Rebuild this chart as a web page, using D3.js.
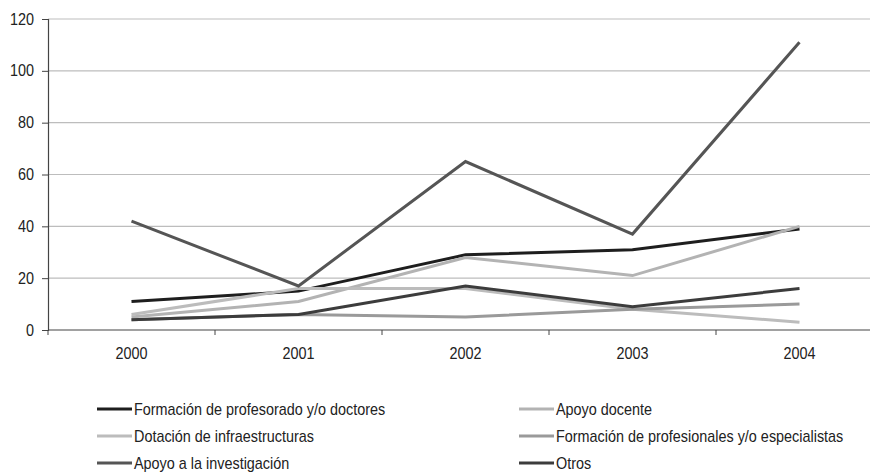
<!DOCTYPE html>
<html><head><meta charset="utf-8">
<script src="https://cdn.jsdelivr.net/npm/d3@7"></script>
<style>body{margin:0;background:#fff}svg{display:block}text{font-family:"Liberation Sans Narrow","Arial Narrow","Liberation Sans",Arial,sans-serif;fill:#222}</style>
</head><body><svg id="c" width="870" height="472"></svg>
<script>
const years = ["2000","2001","2002","2003","2004"];
const yTicks = [0,20,40,60,80,100,120];
const seriesNames = ["Formación de profesorado y/o doctores","Apoyo docente","Dotación de infraestructuras","Formación de profesionales y/o especialistas","Apoyo a la investigación","Otros"];
const formacionProfesorado = [11,15,29,31,39];
const apoyoDocente = [5,11,28,21,40];
const dotacion = [6,16,16,8,3];
const formacionProfesionales = [4,6,5,8,10];
const apoyoInvestigacion = [42,17,65,37,111];
const otros = [4,6,17,9,16];
const seriesValues = [formacionProfesorado, apoyoDocente, dotacion, formacionProfesionales, apoyoInvestigacion, otros];
const colors = ["#1e1e1e","#b3b3b3","#bcbcbc","#9a9a9a","#555555","#3c3c3c"];
const SX = 0.9, FS = "16px";

const svg = d3.select("#c");
const x = d3.scaleBand().domain(years).range([48, 883]);
const y = d3.scaleLinear().domain([0,120]).range([330, 19]);

svg.append("g").selectAll("line").data(yTicks.filter(d=>d>0)).join("line")
  .attr("x1",48).attr("x2",870).attr("y1",d=>y(d)).attr("y2",d=>y(d))
  .attr("stroke","#bdbdbd").attr("stroke-width",1.2);

const ya = svg.append("g").attr("transform","translate(48,0)")
  .call(d3.axisLeft(y).tickValues(yTicks).tickSize(6).tickPadding(7));
ya.select(".domain").attr("stroke","#444").attr("stroke-width",1.2);
ya.selectAll(".tick line").attr("stroke","#444");
ya.selectAll("text").style("font-size",FS).attr("fill","#222")
  .attr("x",-14/SX).attr("transform",`scale(${SX},1)`);

const xa = svg.append("g").attr("transform","translate(0,330)")
  .call(d3.axisBottom(x).tickSize(0).tickPadding(18));
xa.select(".domain").remove();
xa.selectAll("text").style("font-size",FS).attr("fill","#222").attr("transform",`scale(${SX},1)`);
svg.append("line").attr("x1",48).attr("x2",870).attr("y1",330).attr("y2",330).attr("stroke","#444").attr("stroke-width",1.2);
svg.append("g").selectAll("line").data(years.concat(["end"])).join("line")
  .attr("x1",(d,i)=>x.range()[0]+i*x.step()).attr("x2",(d,i)=>x.range()[0]+i*x.step())
  .attr("y1",330).attr("y2",335).attr("stroke","#444");

const line = d3.line().x((d,i)=>x(years[i])+x.bandwidth()/2).y(d=>y(d));
svg.append("g").selectAll("path").data(seriesValues).join("path")
  .attr("d",line).attr("fill","none").attr("stroke",(d,i)=>colors[i])
  .attr("stroke-width",3).attr("stroke-linejoin","miter");

const legX = [97, 519], legY = [409, 436, 463];
const lg = svg.append("g").selectAll("g").data(seriesNames).join("g")
  .attr("transform",(d,i)=>`translate(${legX[i%2]},${legY[Math.floor(i/2)]})`);
lg.append("line").attr("x1",0).attr("x2",35).attr("y1",0).attr("y2",0)
  .attr("stroke",(d,i)=>colors[i]).attr("stroke-width",3);
lg.append("text").attr("transform",`translate(37,0) scale(${SX},1)`).attr("dy","0.35em").style("font-size",FS).text(d=>d);
</script></body></html>
